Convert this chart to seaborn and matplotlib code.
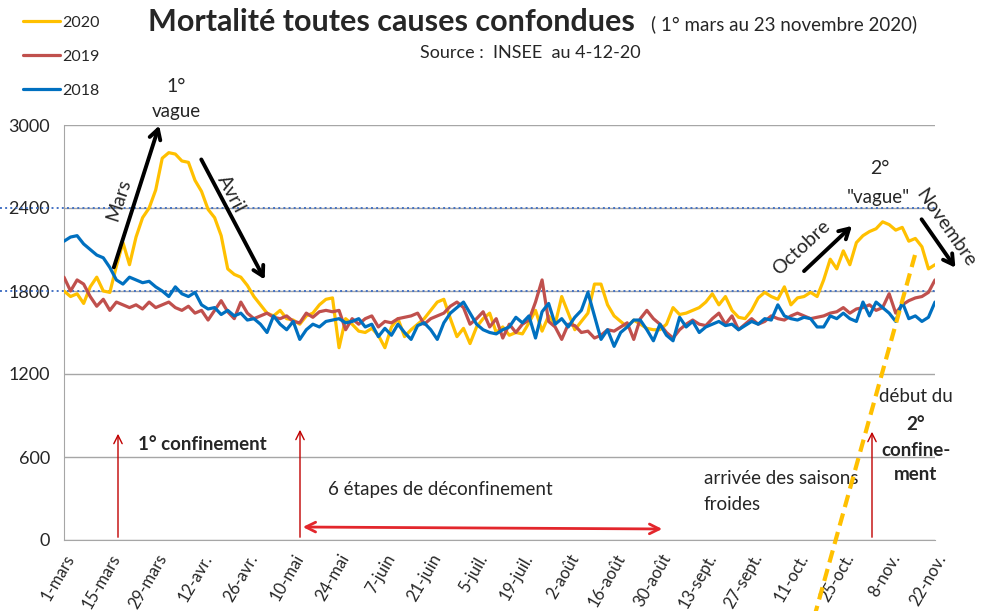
import numpy as np
import pandas as pd
import seaborn as sns
import matplotlib.pyplot as plt

W, H = 986, 611

annees = ['2020', '2019', '2018']
couleurs = ['#FFC000', '#C0504D', '#0070C0']
debut = '2020-03-01'
pas_jours = 2

# deces quotidiens, un point tous les 2 jours (1 mars -> 22 nov.)
deces_2020 = [1800, 1760, 1780, 1710, 1830, 1900, 1800, 1790, 1980, 2150,
              1990, 2190, 2330, 2400, 2530, 2760, 2800, 2790, 2740, 2730,
              2600, 2520, 2390, 2330, 2200, 1960, 1920, 1900, 1840, 1760,
              1700, 1640, 1620, 1660, 1600, 1590, 1560, 1620, 1640, 1700,
              1740, 1750, 1390, 1600, 1560, 1510, 1500, 1530, 1480, 1390,
              1540, 1600, 1470, 1520, 1560, 1600, 1660, 1720, 1740, 1600,
              1470, 1530, 1420, 1540, 1600, 1640, 1500, 1540, 1480, 1500,
              1490, 1570, 1660, 1510, 1620, 1560, 1760, 1640, 1520, 1580,
              1640, 1850, 1850, 1700, 1620, 1580, 1540, 1590, 1560, 1530,
              1520, 1520, 1560, 1680, 1630, 1640, 1660, 1680, 1720, 1780,
              1700, 1760, 1660, 1610, 1600, 1660, 1750, 1790, 1760, 1740,
              1830, 1700, 1750, 1760, 1790, 1760, 1880, 2030, 1960, 2090,
              1990, 2150, 2200, 2230, 2250, 2300, 2280, 2240, 2260, 2160,
              2180, 2120, 1960, 1990]
deces_2019 = [1900, 1800, 1880, 1850, 1760, 1690, 1740, 1660, 1720, 1700,
              1680, 1700, 1670, 1720, 1680, 1700, 1720, 1680, 1660, 1690,
              1640, 1660, 1590, 1660, 1730, 1650, 1600, 1720, 1640, 1600,
              1620, 1640, 1610, 1600, 1620, 1580, 1570, 1640, 1610, 1650,
              1660, 1650, 1660, 1520, 1600, 1560, 1600, 1620, 1540, 1580,
              1570, 1600, 1610, 1620, 1640, 1560, 1600, 1620, 1640, 1690,
              1720, 1680, 1560, 1600, 1650, 1540, 1600, 1460, 1560, 1500,
              1560, 1590, 1720, 1880, 1580, 1540, 1450, 1560, 1550, 1500,
              1510, 1460, 1480, 1520, 1510, 1540, 1570, 1450, 1600, 1660,
              1600, 1560, 1500, 1460, 1520, 1560, 1590, 1560, 1550, 1600,
              1640, 1560, 1620, 1520, 1560, 1600, 1560, 1580, 1620, 1600,
              1590, 1620, 1640, 1620, 1600, 1610, 1620, 1640, 1650, 1680,
              1640, 1670, 1680, 1700, 1660, 1680, 1780, 1640, 1700, 1730,
              1750, 1760, 1790, 1880]
deces_2018 = [2160, 2190, 2200, 2140, 2100, 2060, 2040, 1970, 1880, 1850,
              1900, 1880, 1860, 1870, 1830, 1800, 1760, 1830, 1780, 1760,
              1790, 1700, 1670, 1680, 1630, 1660, 1620, 1640, 1590, 1600,
              1560, 1500, 1620, 1560, 1520, 1580, 1450, 1520, 1560, 1540,
              1580, 1590, 1600, 1570, 1580, 1600, 1540, 1560, 1470, 1530,
              1480, 1560, 1500, 1450, 1550, 1570, 1520, 1450, 1570, 1640,
              1680, 1720, 1640, 1560, 1520, 1500, 1490, 1520, 1540, 1610,
              1570, 1620, 1460, 1650, 1710, 1560, 1600, 1540, 1610, 1660,
              1790, 1620, 1450, 1520, 1400, 1500, 1540, 1590, 1590, 1520,
              1440, 1560, 1480, 1440, 1610, 1540, 1580, 1500, 1540, 1560,
              1580, 1550, 1560, 1520, 1550, 1580, 1560, 1600, 1590, 1700,
              1620, 1600, 1590, 1610, 1600, 1540, 1540, 1620, 1600, 1640,
              1600, 1580, 1720, 1620, 1720, 1680, 1640, 1580, 1720, 1600,
              1620, 1580, 1610, 1720]

x_labels = ['1-mars', '15-mars', '29-mars', '12-avr.', '26-avr.', '10-mai',
            '24-mai', '7-juin', '21-juin', '5-juil.', '19-juil.', '2-août',
            '16-août', '30-août', '13-sept.', '27-sept.', '11-oct.', '25-oct.',
            '8-nov.', '22-nov.']
y_ticks = [0, 600, 1200, 1800, 2400, 3000]


def px(x, y):
    # position in the 986x611 picture -> figure fraction
    return (x / W, 1 - y / H)


sns.set_style('white')
plt.rcParams['font.family'] = ['Lato', 'DejaVu Sans']

dates = pd.date_range(debut, periods=len(deces_2020), freq=f'{pas_jours}D')
df = pd.DataFrame({
    'date': np.tile(dates, 3),
    'deces': deces_2020 + deces_2019 + deces_2018,
    'annee': np.repeat(annees, len(dates)),
})

fig = plt.figure(figsize=(W / 100, H / 100), dpi=100)
ax = fig.add_axes([64 / W, 1 - 540 / H, (935 - 64) / W, (540 - 125) / H])
sns.lineplot(data=df, x='date', y='deces', hue='annee', hue_order=annees,
             palette=couleurs, linewidth=2.3, estimator=None, ax=ax, zorder=3)

ax.set_xlim(dates[0], dates[-1])
ax.set_ylim(0, 3000)
ax.set_xticks(pd.date_range(debut, periods=len(x_labels), freq='14D'))
ax.set_xticklabels(x_labels, rotation=60, ha='right', rotation_mode='anchor',
                   fontsize=12)
ax.set_yticks(y_ticks)
ax.set_yticklabels([str(v) for v in y_ticks], fontsize=13)
ax.set_xlabel('')
ax.set_ylabel('')
ax.tick_params(axis='both', direction='out', length=5, color='#A6A6A6',
               labelcolor='#262626')
ax.tick_params(axis='y', pad=5)
ax.tick_params(axis='x', pad=3)
ax.grid(axis='y', color='#A6A6A6', lw=1)
ax.set_axisbelow(True)
for s in ['top', 'right']:
    ax.spines[s].set_visible(False)
for s in ['left', 'bottom']:
    ax.spines[s].set_color('#A6A6A6')

# lignes pointillees 1800 / 2400
for v in (1800, 2400):
    ax.axhline(v, xmin=-64 / 871, xmax=1.0, color='#4472C4', ls=':', lw=1.4,
               clip_on=False, zorder=2)

handles, labels = ax.get_legend_handles_labels()
ax.get_legend().remove()
fig.legend(handles, labels, loc='upper left', bbox_to_anchor=px(9, 1),
           frameon=False, fontsize=11.5, handlelength=2.3, handletextpad=0.12,
           labelspacing=1.25)

# titres
fig.text(*px(148, 31), 'Mortalité toutes causes confondues', fontsize=22,
         fontweight='bold', ha='left', va='baseline')
fig.text(*px(651, 30), '( 1° mars au 23 novembre 2020)', fontsize=13.5,
         ha='left', va='baseline')
fig.text(*px(530, 53), 'Source :  INSEE  au 4-12-20', fontsize=13,
         ha='center', va='center')

fs = 13.5
# annotations vagues
big = dict(arrowstyle='->,head_length=0.7,head_width=0.4', lw=2.8, color='black')
fig.text(*px(176, 87), '1°', fontsize=14, ha='center', va='center')
fig.text(*px(176, 112), 'vague', fontsize=fs, ha='center', va='center')
ax.annotate('', xy=px(160, 123), xytext=px(113, 270), xycoords='figure fraction',
            arrowprops=big)
fig.text(*px(119, 200), 'Mars', fontsize=14, rotation=72, ha='center', va='center')
ax.annotate('', xy=px(266, 282), xytext=px(200, 157), xycoords='figure fraction',
            arrowprops=big)
fig.text(*px(231, 194), 'Avril', fontsize=14, rotation=-62, ha='center', va='center')

fig.text(*px(880, 168), '2°', fontsize=14, ha='center', va='center')
fig.text(*px(878, 197), '"vague"', fontsize=fs, ha='center', va='center')
ax.annotate('', xy=px(854, 224), xytext=px(802, 273), xycoords='figure fraction',
            arrowprops=big)
fig.text(*px(801, 248), 'Octobre', fontsize=14, rotation=43, ha='center', va='center')
ax.annotate('', xy=px(957, 270), xytext=px(920, 217), xycoords='figure fraction',
            arrowprops=big)
fig.text(*px(946, 228), 'Novembre', fontsize=14, rotation=-55, ha='center', va='center')

# confinements
thin = dict(arrowstyle='->,head_length=0.6,head_width=0.3', lw=1, color='#C00000')
for xa, ya in [(118, 431), (300, 427), (872, 429)]:
    ax.annotate('', xy=px(xa, ya), xytext=px(xa, 540), xycoords='figure fraction',
                arrowprops=thin)
fig.text(*px(138, 444), '1° confinement', fontsize=fs, fontweight='bold',
         ha='left', va='center')
ax.annotate('', xy=px(665, 529), xytext=px(300, 527), xycoords='figure fraction',
            arrowprops=dict(arrowstyle='<->,head_length=0.7,head_width=0.35',
                            lw=2, color='#E3262C'))
fig.text(*px(328, 490), '6 étapes de déconfinement', fontsize=fs,
         ha='left', va='center')
fig.text(*px(704, 478), 'arrivée des saisons', fontsize=fs, ha='left', va='center')
fig.text(*px(704, 505), 'froides', fontsize=fs, ha='left', va='center')
fig.text(*px(916, 397), 'début du', fontsize=fs, ha='center', va='center')
for yy, t in [(424, '2°'), (450, 'confine-'), (474, 'ment')]:
    fig.text(*px(916, yy), t, fontsize=fs, fontweight='bold',
             ha='center', va='center')

# ligne orange pointillee
x0, y0 = px(915, 255)
x1, y1 = px(812, 625)
fig.add_artist(plt.Line2D([x0, x1], [y0, y1], transform=fig.transFigure,
                          color='#FFC000', lw=3, ls=(0, (3, 1.6)), zorder=10))

fig.savefig('out.png', dpi=100)
